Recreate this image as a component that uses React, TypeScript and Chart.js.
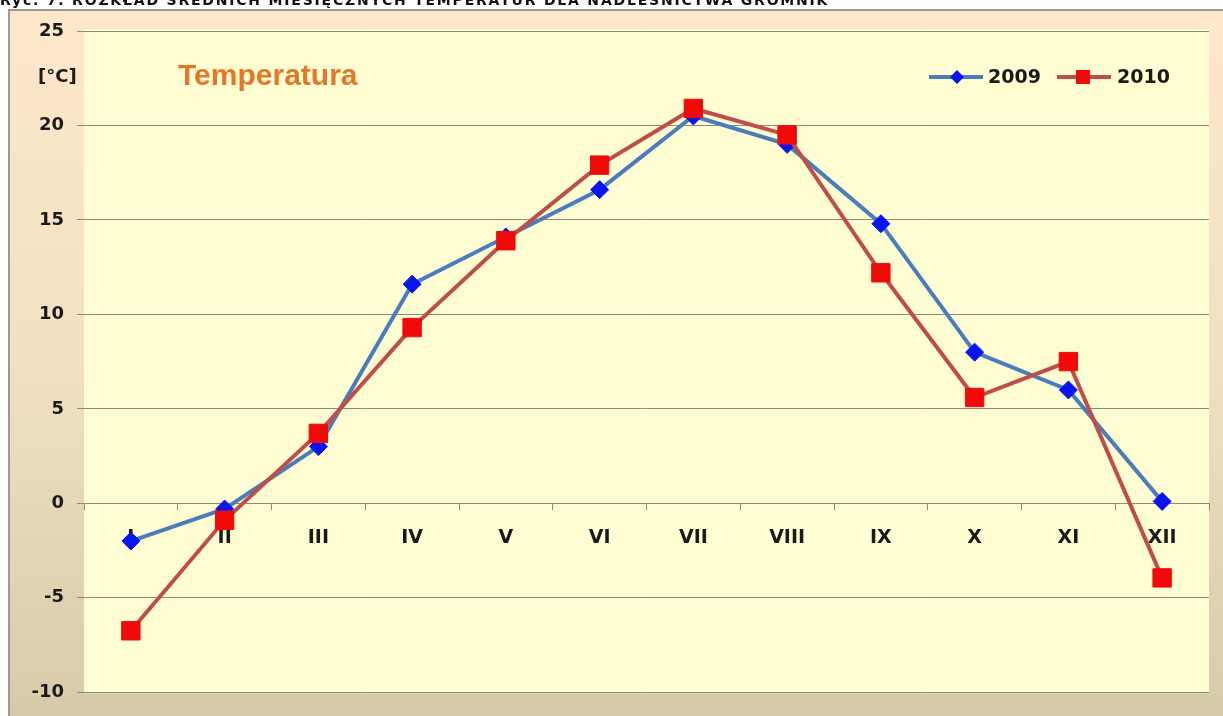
import { useEffect, useRef } from "react";
import { Chart, registerables } from "chart.js";

Chart.register(...registerables);

const months = ["I", "II", "III", "IV", "V", "VI", "VII", "VIII", "IX", "X", "XI", "XII"];
const temps2009 = [-2.0, -0.3, 3.0, 11.6, 14.1, 16.6, 20.5, 19.0, 14.8, 8.0, 6.0, 0.1];
const temps2010 = [-6.75, -0.9, 3.7, 9.3, 13.9, 17.9, 20.9, 19.5, 12.2, 5.6, 7.5, -3.95];
const yTicks = [-10, -5, 0, 5, 10, 15, 20, 25];
const seriesLabels = ["2009", "2010"];
const titleText = "Ryc. 7. ROZKŁAD ŚREDNICH MIESIĘCZNYCH TEMPERATUR DLA NADLEŚNICTWA GROMNIK";
const chartLabel = "Temperatura";
const unitLabel = "[°C]";

const FONT = '"DejaVu Sans", sans-serif';
const LINE_2009 = "#4a7ebb";
const POINT_2009 = "#0a14f0";
const LINE_2010 = "#bf4d49";
const POINT_2010 = "#f00a0a";

const decorPlugin = {
  id: "decor",
  beforeDraw(chart: any) {
    const { ctx, chartArea, width, height } = chart;
    ctx.save();
    const g = ctx.createLinearGradient(0, 10, 0, height);
    g.addColorStop(0, "#fde8c9");
    g.addColorStop(0.5, "#f1e1c0");
    g.addColorStop(1, "#d6cba9");
    ctx.fillStyle = g;
    ctx.fillRect(9, 10, width - 9, height - 10);
    ctx.strokeStyle = "#9c9a94";
    ctx.lineWidth = 2;
    ctx.beginPath();
    ctx.moveTo(9, height);
    ctx.lineTo(9, 10);
    ctx.lineTo(width, 10);
    ctx.stroke();
    ctx.fillStyle = "#fffed3";
    ctx.fillRect(chartArea.left, chartArea.top - 2, chartArea.right - chartArea.left, chartArea.bottom - chartArea.top + 3);
    ctx.restore();
  },
  afterDraw(chart: any) {
    const { ctx } = chart;
    ctx.save();
    ctx.textBaseline = "middle";
    ctx.fillStyle = "#1a1a1a";
    ctx.font = `bold 18px ${FONT}`;
    ctx.textAlign = "left";
    ctx.fillText(unitLabel, 38, 77);

    ctx.fillStyle = "#e3772a";
    ctx.font = `bold 30px "Liberation Sans", Arial, sans-serif`;
    ctx.fillText(chartLabel, 178, 77);

    // legend
    const ds = chart.data.datasets;
    const y = 77;
    ctx.strokeStyle = ds[0].borderColor;
    ctx.lineWidth = 4;
    ctx.beginPath();
    ctx.moveTo(929, y);
    ctx.lineTo(983, y);
    ctx.stroke();
    ctx.fillStyle = ds[0].pointBackgroundColor;
    ctx.beginPath();
    ctx.moveTo(957, y - 7);
    ctx.lineTo(964, y);
    ctx.lineTo(957, y + 7);
    ctx.lineTo(950, y);
    ctx.closePath();
    ctx.fill();
    ctx.fillStyle = "#1a1a1a";
    ctx.font = `bold 19px ${FONT}`;
    ctx.fillText(ds[0].label, 988, y + 1);
    ctx.strokeStyle = ds[1].borderColor;
    ctx.beginPath();
    ctx.moveTo(1057, y);
    ctx.lineTo(1111, y);
    ctx.stroke();
    ctx.fillStyle = ds[1].pointBackgroundColor;
    ctx.fillRect(1076, y - 7, 14, 14);
    ctx.fillStyle = "#1a1a1a";
    ctx.fillText(ds[1].label, 1117, y + 1);
    ctx.restore();
  },
};

export default function App() {
  const ref = useRef<HTMLCanvasElement | null>(null);

  useEffect(() => {
    if (!ref.current) return;
    const chart = new Chart(ref.current, {
      type: "line",
      data: {
        labels: months,
        datasets: [
          {
            label: seriesLabels[0],
            data: temps2009,
            borderColor: LINE_2009,
            borderWidth: 4,
            pointStyle: "rectRot",
            pointRadius: 9,
            pointHoverRadius: 9,
            pointBackgroundColor: POINT_2009,
            pointBorderColor: POINT_2009,
            pointBorderWidth: 1,
            tension: 0,
            order: 2,
          },
          {
            label: seriesLabels[1],
            data: temps2010,
            borderColor: LINE_2010,
            borderWidth: 4,
            pointStyle: "rect",
            pointRadius: 13,
            pointHoverRadius: 13,
            pointBackgroundColor: POINT_2010,
            pointBorderColor: POINT_2010,
            pointBorderWidth: 1,
            tension: 0,
            order: 1,
          },
        ],
      },
      options: {
        animation: false,
        responsive: false,
        maintainAspectRatio: false,
        layout: { padding: { left: 0, top: 31, right: 14, bottom: 19 } },
        plugins: {
          legend: { display: false },
          tooltip: { enabled: false },
          title: { display: false },
        },
        scales: {
          x: {
            type: "category",
            position: { y: 0 },
            offset: true,
            grid: {
              offset: true,
              drawOnChartArea: false,
              drawTicks: true,
              tickLength: 6,
              color: "#8c8c7c",
            },
            border: { display: true, color: "#8c8c7c" },
            ticks: {
              color: "#1a1a1a",
              font: { family: FONT, size: 19, weight: "bold" },
              padding: 17,
              maxRotation: 0,
              autoSkip: false,
            },
          },
          y: {
            min: -10,
            max: 25,
            afterBuildTicks(scale: any) {
              scale.ticks = yTicks.map((v) => ({ value: v }));
            },
            afterFit(scale: any) {
              scale.width = 84;
            },
            grid: {
              color: "#8c8c7c",
              lineWidth: 1,
              tickLength: 7,
            },
            border: { display: false },
            ticks: {
              color: "#1a1a1a",
              font: { family: FONT, size: 18, weight: "bold" },
              padding: 13,
            },
          },
        },
      },
      plugins: [decorPlugin],
    });
    return () => chart.destroy();
  }, []);

  return (
    <div style={{ position: "fixed", left: 0, top: 0, width: 1223, height: 716, overflow: "hidden", background: "#ffffff" }}>
      <canvas ref={ref} width={1223} height={716} style={{ position: "absolute", left: 0, top: 0, width: 1223, height: 716 }} />
      <div
        style={{
          position: "absolute",
          left: 0,
          top: -7,
          whiteSpace: "nowrap",
          font: `bold 14px ${FONT}`,
          lineHeight: "14px",
          color: "#111",
          letterSpacing: "1.8px",
        }}
      >
        {titleText}
      </div>
    </div>
  );
}
